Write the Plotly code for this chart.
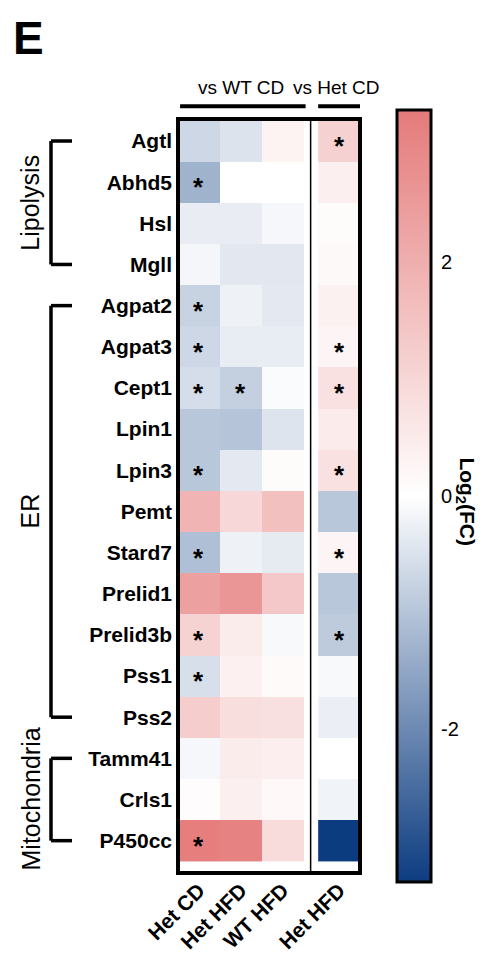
import plotly.graph_objects as go

genes = ["Agtl", "Abhd5", "Hsl", "Mgll", "Agpat2", "Agpat3", "Cept1", "Lpin1",
         "Lpin3", "Pemt", "Stard7", "Prelid1", "Prelid3b", "Pss1", "Pss2",
         "Tamm41", "Crls1", "P450cc"]
col_labels = ["Het CD", "Het HFD", "WT HFD", "Het HFD"]

# log2 fold change, vs WT CD
het_cd = [-0.68, -1.29, -0.30, -0.15, -0.75, -0.68, -0.58, -0.95, -0.95, 1.86,
          -1.09, 2.36, 1.10, -0.54, 1.24, -0.14, 0.07, 3.2]
het_hfd = [-0.47, 0.0, -0.30, -0.40, -0.23, -0.31, -0.80, -1.00, -0.37, 1.00,
           -0.23, 2.60, 0.47, 0.37, 0.82, 0.47, 0.40, 3.1]
wt_hfd = [0.30, 0.0, -0.13, -0.40, -0.37, -0.31, -0.07, -0.45, 0.10, 1.56,
          -0.34, 1.36, -0.10, 0.12, 0.77, 0.42, 0.17, 0.87]
# vs Het CD
het_hfd_vs_het = [1.15, 0.40, 0.10, 0.15, 0.35, 0.25, 0.75, 0.50, 0.75, -0.95,
                  0.25, -0.95, -0.88, -0.10, -0.27, 0.0, -0.20, -3.3]

sig_het_cd = ["Abhd5", "Agpat2", "Agpat3", "Cept1", "Lpin3", "Stard7", "Prelid3b", "Pss1", "P450cc"]
sig_het_hfd = ["Cept1"]
sig_wt_hfd = []
sig_het_hfd_vs_het = ["Agtl", "Agpat3", "Cept1", "Lpin3", "Stard7", "Prelid3b"]

groups = [("Lipolysis", "Agtl", "Mgll"), ("ER", "Agpat2", "Pss2"), ("Mitochondria", "Tamm41", "P450cc")]

zmin, zmax = -3.3, 3.3
cb_ticks = [-2, 0, 2]
col_x = [0, 1, 2, 3.35]

FONT = "Liberation Sans, Arial, Helvetica, sans-serif"
OFF = 8  # page body margin
W, H = 474, 957
ML, MT = 170, 111
PW, PH = 182, 771
MR, MB = W - ML - PW, H - MT - PH


def px_x(p):
    return (p - OFF - ML) / PW


def px_y(p):
    return 1 - (p - OFF - MT) / PH


fig = go.Figure()
fig.add_trace(go.Heatmap(
    z=[[a, b, c] for a, b, c in zip(het_cd, het_hfd, wt_hfd)],
    x0=0, dx=1, y=genes, coloraxis="coloraxis", hoverinfo="skip"))
fig.add_trace(go.Heatmap(
    z=[[v] for v in het_hfd_vs_het],
    x0=col_x[3], dx=1, y=genes, coloraxis="coloraxis", hoverinfo="skip"))

annotations = []
for ci, sig in enumerate([sig_het_cd, sig_het_hfd, sig_wt_hfd, sig_het_hfd_vs_het]):
    for g in sig:
        annotations.append(dict(x=col_x[ci], y=genes.index(g), xref="x", yref="y",
                                xanchor="center", yanchor="middle",
                                text="<b>*</b>", showarrow=False, yshift=-5,
                                font=dict(size=26, color="black", family=FONT)))

shapes = []
# thin separator line
shapes.append(dict(type="line", xref="x", yref="paper", x0=2.67, x1=2.67, y0=0, y1=1,
                   line=dict(color="black", width=1.5)))
# outer border
shapes.append(dict(type="rect", xref="paper", yref="paper", x0=0, x1=1, y0=0, y1=1,
                   line=dict(color="black", width=4)))
# header lines
hy = px_y(106)
shapes.append(dict(type="line", xref="x", yref="paper", x0=-0.45, x1=2.55, y0=hy, y1=hy,
                   line=dict(color="black", width=4)))
shapes.append(dict(type="line", xref="x", yref="paper", x0=2.85, x1=3.85, y0=hy, y1=hy,
                   line=dict(color="black", width=4)))
annotations.append(dict(x=1, y=px_y(87), xref="x", yref="paper", text="vs WT CD",
                        xanchor="center", yanchor="middle",
                        showarrow=False, font=dict(size=19, color="black", family=FONT)))
annotations.append(dict(x=px_x(336), y=px_y(87), xref="paper", yref="paper", text="vs Het CD",
                        xanchor="center", yanchor="middle",
                        showarrow=False, font=dict(size=19, color="black", family=FONT)))

# group brackets
bx0, bx1 = px_x(51), px_x(72)
for name, g0, g1 in groups:
    i0, i1 = genes.index(g0), genes.index(g1)
    for (xa, xb, ya, yb) in [(bx0, bx0, i0, i1), (bx0, bx1, i0, i0), (bx0, bx1, i1, i1)]:
        shapes.append(dict(type="line", xref="paper", yref="y", x0=xa, x1=xb, y0=ya, y1=yb,
                           line=dict(color="black", width=3.5)))
    annotations.append(dict(x=px_x(30), y=(i0 + i1) / 2, xref="paper", yref="y", text=name,
                            xanchor="center", yanchor="middle",
                            textangle=-90, showarrow=False,
                            font=dict(size=25, color="black", family=FONT)))

# panel letter (box top at the figure top)
annotations.append(dict(x=px_x(11), y=px_y(OFF), xref="paper", yref="paper", text="<b>E</b>",
                        showarrow=False, xanchor="left", yanchor="top",
                        font=dict(size=46, color="black", family=FONT)))

# colorbar geometry
cb_left, cb_thick, cb_top, cb_len = 397, 34, 118, 772
cb_center = cb_top + cb_len / 2
annotations.append(dict(x=px_x(466), y=px_y(cb_center + 6), xref="paper", yref="paper",
                        xanchor="center", yanchor="middle",
                        text="<b>Log<sub>2</sub>(FC)</b>", textangle=90, showarrow=False,
                        font=dict(size=21, color="black", family=FONT)))
# inward tick marks on both edges of the colour bar
for v in cb_ticks:
    yy = px_y(cb_center - v * cb_len / (zmax - zmin))
    for xa, xb in [(cb_left + 1, cb_left + 7), (cb_left + cb_thick - 7, cb_left + cb_thick - 1)]:
        shapes.append(dict(type="line", xref="paper", yref="paper", x0=px_x(xa),
                           x1=px_x(xb), y0=yy, y1=yy, line=dict(color="black", width=2)))

fig.update_layout(
    width=W, height=H,
    margin=dict(l=ML, r=MR, t=MT, b=MB),
    paper_bgcolor="white", plot_bgcolor="white",
    font=dict(family=FONT, color="black"),
    coloraxis=dict(
        cmin=zmin, cmax=zmax,
        colorscale=[[0, "rgb(12,60,128)"], [0.5, "rgb(255,255,255)"], [1, "rgb(229,122,122)"]],
        colorbar=dict(
            x=px_x(cb_left), xanchor="left", xpad=0,
            y=px_y(cb_center), yanchor="middle", ypad=0,
            lenmode="pixels", len=cb_len, thicknessmode="pixels", thickness=cb_thick,
            outlinewidth=3, outlinecolor="black",
            tickvals=cb_ticks, ticktext=[str(t) for t in cb_ticks],
            ticks="outside", ticklen=5, tickwidth=1, tickcolor="rgba(0,0,0,0)",
            tickfont=dict(size=20, color="black", family=FONT),
        ),
    ),
    xaxis=dict(range=[-0.5, 3.85], tickvals=col_x, ticktext=col_labels, tickangle=-45,
               showgrid=False, zeroline=False, showline=False, ticks="",
               tickfont=dict(size=21, color="black", family=FONT, weight="bold")),
    yaxis=dict(autorange="reversed", showgrid=False, zeroline=False, showline=False,
               ticks="", ticklabelstandoff=5,
               tickfont=dict(size=21, color="black", family=FONT, weight="bold")),
    shapes=shapes, annotations=annotations, showlegend=False,
)

fig.write_html("out.html")
